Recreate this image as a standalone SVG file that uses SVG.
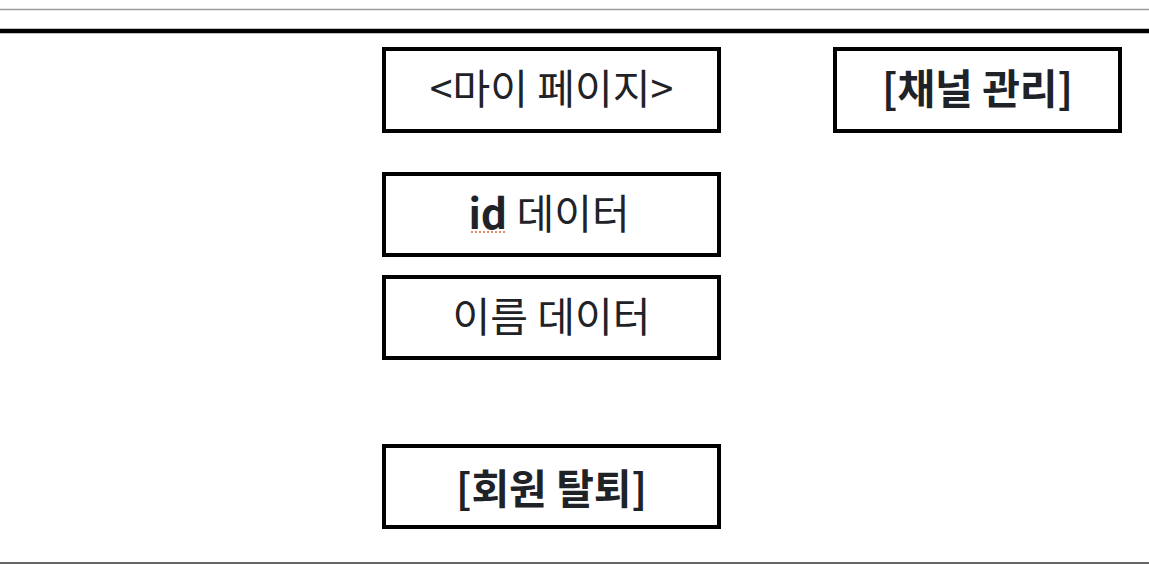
<svg xmlns="http://www.w3.org/2000/svg" width="1149" height="565" viewBox="0 0 1149 565">
<style>
.box{fill:#fff;stroke:#000;stroke-width:4}
.t{font-family:"Noto Sans CJK KR","Noto Sans",sans-serif;font-size:41px;fill:#1f2328;text-anchor:middle}
.b{font-weight:bold}
</style>
<rect width="1149" height="565" fill="#fff"/>
<line x1="0" y1="9.5" x2="1149" y2="9.5" stroke="#9a9a9a" stroke-width="1.5"/>
<line x1="0" y1="31" x2="1149" y2="31" stroke="#000" stroke-width="4.5"/>
<line x1="0" y1="563" x2="1149" y2="563" stroke="#333" stroke-width="1.5"/>
<g id="mypage">
<rect class="box" x="384" y="49" width="335" height="82"/>
<text class="t" x="551.5" y="104">&lt;마이 페이지&gt;</text>
</g>
<g id="channel">
<rect class="box" x="835" y="49" width="285" height="82"/>
<text class="t b" x="977.5" y="104">[채널 관리]</text>
</g>
<g id="iddata">
<rect class="box" x="384" y="174" width="335" height="81"/>
<text class="t" x="549" y="229"><tspan font-weight="600">id</tspan> 데이터</text>
<line x1="471" y1="232" x2="507" y2="232" stroke="#e06030" stroke-width="1.5" stroke-dasharray="2,2"/>
</g>
<g id="namedata">
<rect class="box" x="384" y="277" width="335" height="81"/>
<text class="t" x="551.5" y="332">이름 데이터</text>
</g>
<g id="withdraw">
<rect class="box" x="384" y="446" width="335" height="81"/>
<text class="t b" x="551.5" y="504">[회원 탈퇴]</text>
</g>
<g id="connectors"></g>
</svg>
